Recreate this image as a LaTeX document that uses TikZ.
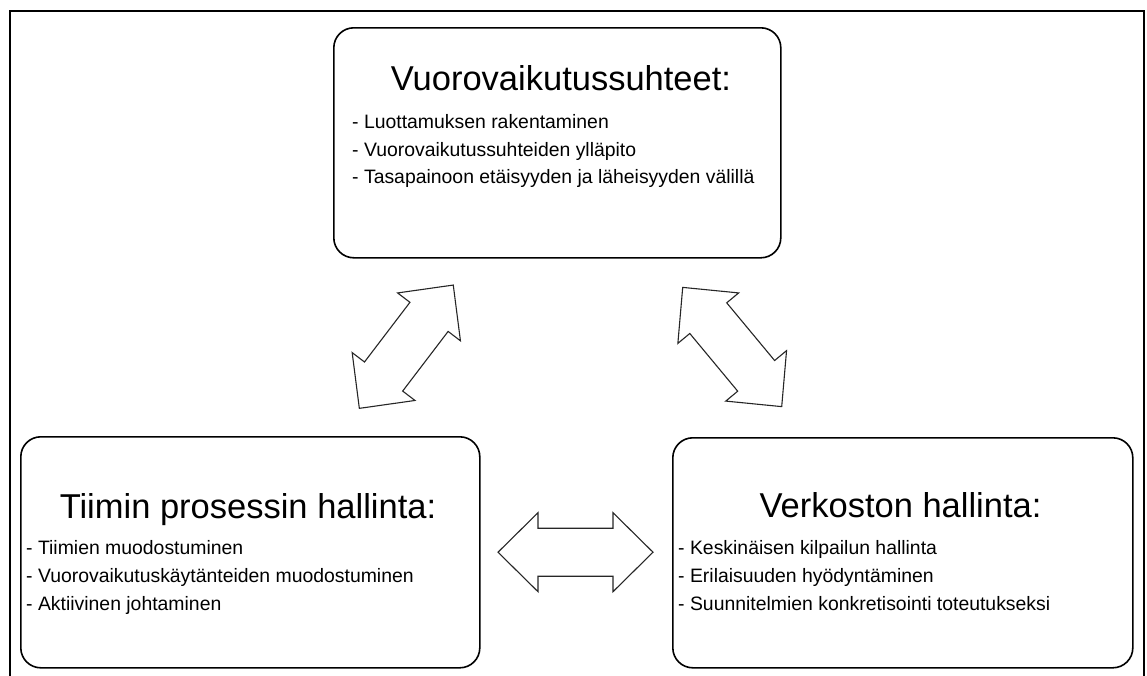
\documentclass[tikz,border=0pt]{standalone}
\usepackage{fontspec}
\setmainfont{Liberation Sans}
\begin{document}
\begin{tikzpicture}[x=1pt,y=-1pt,
  frameline/.style={line width=2pt,draw=black},
  topicbox/.style={draw=black,line width=1.6pt,rounded corners=20pt,
    inner sep=0pt,anchor=north west},
  heading/.style={inner sep=0pt,anchor=base,text=black,
    font=\fontsize{34.5}{40}\selectfont},
  item/.style={inner sep=0pt,anchor=base west,text=black,
    font=\fontsize{19.4}{24}\selectfont},
  arrowline/.style={draw=black!85,line width=1.1pt,line join=miter,fill=white},
  dblarrow/.pic={
    \path[arrowline] (-77.5,0) -- (-37.5,39.5) -- (-37.5,24) -- (37.5,24)
      -- (37.5,39.5) -- (77.5,0) -- (37.5,-39.5) -- (37.5,-24)
      -- (-37.5,-24) -- (-37.5,-39.5) -- cycle;
  }]
\useasboundingbox (0,0) rectangle (1147,675);

% outer frame, open at the bottom
\draw[frameline] (9.5,676) -- (9.5,10.5) -- (1144,10.5) -- (1144,676);

% topic boxes
\node[topicbox,minimum width=447pt,minimum height=230pt] (rel) at (333,27) {};
\node[topicbox,minimum width=459pt,minimum height=231pt] (team) at (20,436) {};
\node[topicbox,minimum width=460pt,minimum height=230pt] (net) at (672,437) {};

% interaction relationships
\node[heading] (relT) at (561,90) {Vuorovaikutussuhteet:};
\node[item] (rel1) at (352,128.3) {- Luottamuksen rakentaminen};
\node[item] (rel2) at (352,156) {- Vuorovaikutussuhteiden ylläpito};
\node[item] (rel3) at (352,183.5) {- Tasapainoon etäisyyden ja läheisyyden välillä};

% team process
\node[heading] (teamT) at (248,518.3) {Tiimin prosessin hallinta:};
\node[item] (team1) at (26,554.3) {- Tiimien muodostuminen};
\node[item] (team2) at (26,582.5) {- Vuorovaikutuskäytänteiden muodostuminen};
\node[item] (team3) at (26,610.3) {- Aktiivinen johtaminen};

% network management
\node[heading] (netT) at (900.5,517.5) {Verkoston hallinta:};
\node[item] (net1) at (678,554.3) {- Keskinäisen kilpailun hallinta};
\node[item] (net2) at (678,582.5) {- Erilaisuuden hyödyntäminen};
\node[item] (net3) at (678,610.3) {- Suunnitelmien konkretisointi toteutukseksi};

% two-way block arrows between the topics
\coordinate (arrL) at (406.3,346.7);
\coordinate (arrR) at (732.2,347);
\coordinate (arrB) at (575.5,552.2);
\pic[rotate=52.7] at (arrL) {dblarrow};
\pic[rotate=-50.3] at (arrR) {dblarrow};
\pic at (arrB) {dblarrow};
\end{tikzpicture}
\end{document}
